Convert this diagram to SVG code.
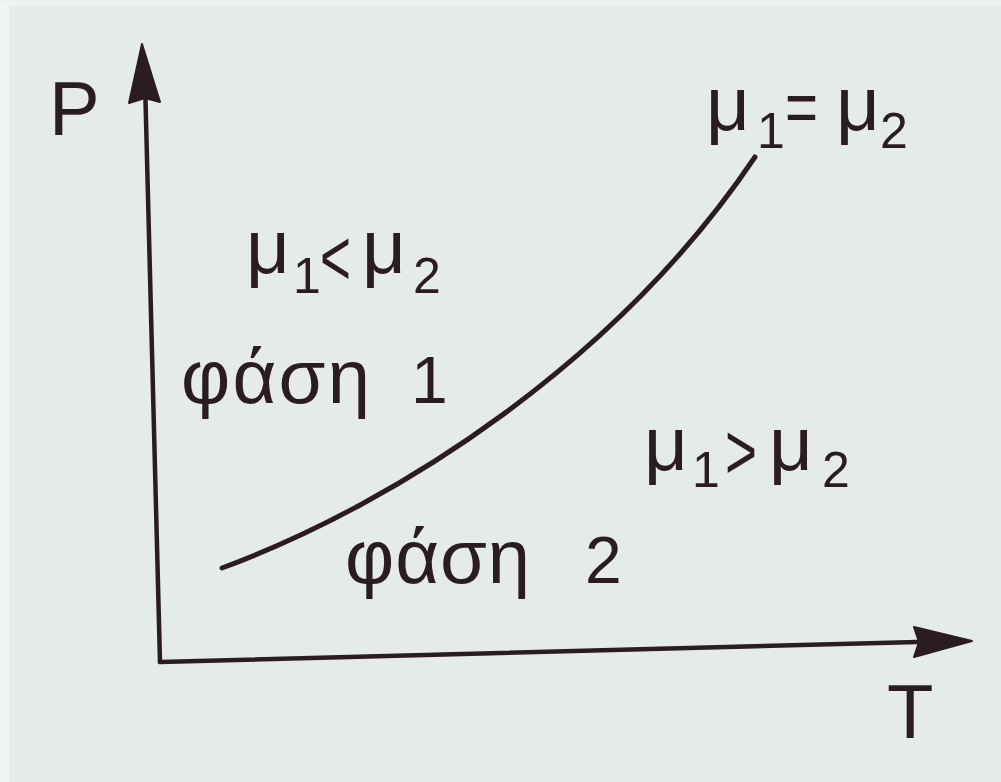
<svg xmlns="http://www.w3.org/2000/svg" width="1001" height="782" viewBox="0 0 1001 782">
  <style>
    .t { font-family: "Liberation Sans", "DejaVu Sans", sans-serif; fill: #2a1c20; font-size: 76px; }
    .sub { font-size: 50px; }
    .op { font-size: 80px; }
    .eq { font-size: 74px; }
    .num { font-size: 66px; }
    .ln { stroke: #2a1c20; fill: none; stroke-linecap: round; }
    .ah { fill: #2a1c20; stroke: #2a1c20; stroke-linejoin: round; stroke-width: 2; }
  </style>
  <rect x="0" y="0" width="1001" height="782" fill="#e5ebe8"/>
  <rect x="0" y="0" width="9" height="782" fill="#f3f5f4"/>
  <rect x="0" y="0" width="1001" height="6" fill="#eef2f0"/>

  <g id="connectors">
    <g id="p-axis">
      <line class="ln" x1="160" y1="662" x2="145.5" y2="100" stroke-width="4.5"/>
      <polygon class="ah" points="142,44 129,103 145,98 160,102"/>
    </g>
    <g id="t-axis">
      <line class="ln" x1="160" y1="662" x2="918" y2="642" stroke-width="4.5"/>
      <polygon class="ah" points="972,641 914,627 919,642 914,657"/>
    </g>
    <g id="curve">
      <path class="ln" d="M222,568 C400,502 618,360 755,157" stroke-width="5"/>
    </g>
  </g>

  <g id="label-P">
    <text class="t" x="49" y="135">P</text>
  </g>
  <g id="label-T">
    <text class="t" x="887" y="738">T</text>
  </g>

  <g id="label-equal">
    <text class="t"><tspan x="706" y="130">μ</tspan><tspan class="sub" x="757" y="148">1</tspan><tspan class="eq" x="785" y="132" textLength="33" lengthAdjust="spacingAndGlyphs">=</tspan><tspan x="836" y="130">μ</tspan><tspan class="sub" x="880" y="148">2</tspan></text>
  </g>

  <g id="label-less">
    <text class="t"><tspan x="246" y="273">μ</tspan><tspan class="sub" x="293" y="293">1</tspan><tspan class="op" x="320" y="285" textLength="31" lengthAdjust="spacingAndGlyphs">&lt;</tspan><tspan x="362" y="273">μ</tspan><tspan class="sub" x="413" y="293">2</tspan></text>
  </g>

  <g id="label-phase1">
    <text class="t"><tspan x="181" y="403" textLength="189">φάση</tspan><tspan class="num" x="411" y="403">1</tspan></text>
  </g>

  <g id="label-greater">
    <text class="t"><tspan x="644" y="470">μ</tspan><tspan class="sub" x="692" y="487">1</tspan><tspan class="op" x="725" y="479" textLength="32" lengthAdjust="spacingAndGlyphs">&gt;</tspan><tspan x="769" y="470">μ</tspan><tspan class="sub" x="822" y="487">2</tspan></text>
  </g>

  <g id="label-phase2">
    <text class="t"><tspan x="345" y="583" textLength="185">φάση</tspan><tspan class="num" x="585" y="583">2</tspan></text>
  </g>
</svg>
